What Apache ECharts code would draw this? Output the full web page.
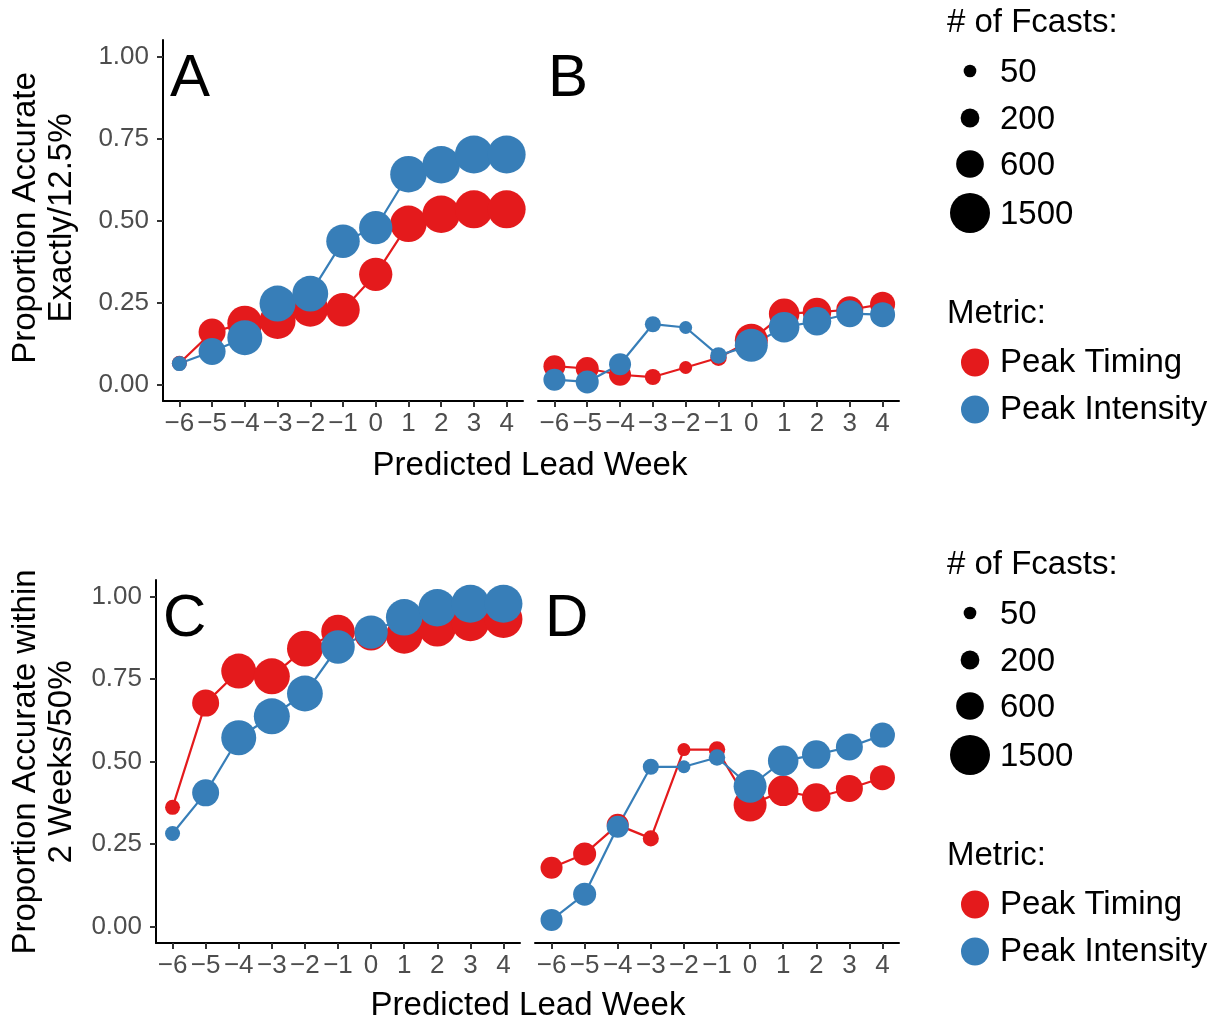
<!DOCTYPE html>
<html>
<head>
<meta charset="utf-8">
<script src="https://cdn.jsdelivr.net/npm/echarts@6/dist/echarts.min.js"></script>
<style>html,body{margin:0;padding:0;background:#fff;}#chart{width:1217px;height:1022px;}</style>
</head>
<body>
<div id="chart"></div>
<script>
// ---- Data ----
const leadWeeks = [-6, -5, -4, -3, -2, -1, 0, 1, 2, 3, 4];
const yTicks = [0, 0.25, 0.5, 0.75, 1.0];
const sizeBreaks = [50, 200, 600, 1500];
const metrics = ['Peak Timing', 'Peak Intensity'];

// number of forecasts per lead week (left column panels A/C, right column panels B/D)
const countsLeft  = [95, 560, 1085, 1163, 1150, 974, 959, 1203, 1284, 1327, 1327];
const countsRight = [319, 362, 319, 120, 55, 132, 938, 769, 645, 560, 456];

// Panel A: exactly / 12.5%
const aTiming    = [0.065, 0.160, 0.187, 0.194, 0.231, 0.228, 0.336, 0.490, 0.519, 0.534, 0.534];
const aIntensity = [0.064, 0.101, 0.143, 0.247, 0.277, 0.437, 0.478, 0.641, 0.670, 0.701, 0.701];
// Panel B
const bTiming    = [0.056, 0.049, 0.030, 0.023, 0.052, 0.082, 0.135, 0.216, 0.221, 0.228, 0.245];
const bIntensity = [0.015, 0.008, 0.062, 0.184, 0.174, 0.089, 0.120, 0.175, 0.193, 0.216, 0.213];
// Panel C: within 2 weeks / 50%
const cTiming    = [0.361, 0.677, 0.774, 0.758, 0.842, 0.894, 0.887, 0.882, 0.905, 0.922, 0.932];
const cIntensity = [0.282, 0.405, 0.572, 0.637, 0.706, 0.847, 0.892, 0.937, 0.966, 0.978, 0.978];
// Panel D
const dTiming    = [0.178, 0.220, 0.308, 0.267, 0.536, 0.536, 0.368, 0.411, 0.391, 0.418, 0.451];
const dIntensity = [0.020, 0.098, 0.302, 0.484, 0.484, 0.512, 0.425, 0.502, 0.521, 0.544, 0.580];

// ---- Styling ----
const FONT = '"Liberation Sans", Arial, Helvetica, sans-serif';
const RED = '#E41A1C', BLUE = '#377EB8';
const colors = [RED, BLUE];
function sizeOf(n) { return 6.6 + 0.862 * Math.sqrt(n); }

const panels = [
  { letter: 'A', showY: true,  dx: 7,  grid: { left: 163, top: 40, width: 360, height: 361 }, series: [aTiming, aIntensity], counts: countsLeft },
  { letter: 'B', showY: false, dx: 10, grid: { left: 538, top: 40, width: 361, height: 361 }, series: [bTiming, bIntensity], counts: countsRight },
  { letter: 'C', showY: true,  dx: 7,  grid: { left: 156, top: 580, width: 364, height: 363 }, series: [cTiming, cIntensity], counts: countsLeft },
  { letter: 'D', showY: false, dx: 10, grid: { left: 535, top: 580, width: 364, height: 363 }, series: [dTiming, dIntensity], counts: countsRight }
];

const grids = [], xAxes = [], yAxes = [], series = [], graphics = [];
panels.forEach((p, i) => {
  grids.push(Object.assign({ outerBoundsMode: 'none', containLabel: false }, p.grid));
  xAxes.push({
    gridIndex: i, type: 'value', min: -6.5, max: 4.5,
    axisLine: { show: true, onZero: false, lineStyle: { color: '#000', width: 2 } },
    axisTick: { show: true, customValues: leadWeeks, length: 6, lineStyle: { color: '#333', width: 2 } },
    axisLabel: { show: true, customValues: leadWeeks, margin: 10, fontSize: 26, color: '#4d4d4d', fontFamily: FONT,
      formatter: v => String(v).replace('-', '\u2212') },
    splitLine: { show: false }
  });
  yAxes.push({
    gridIndex: i, type: 'value', min: -0.05, max: 1.05,
    axisLine: { show: p.showY, onZero: false, lineStyle: { color: '#000', width: 2 } },
    axisTick: { show: p.showY, customValues: yTicks, length: 6, lineStyle: { color: '#333', width: 2 } },
    axisLabel: { show: p.showY, customValues: yTicks, margin: 14, fontSize: 26, color: '#4d4d4d', fontFamily: FONT,
      formatter: v => v.toFixed(2) },
    splitLine: { show: false }
  });
  // points (first so legend picks them), then lines
  p.series.forEach((vals, m) => {
    series.push({
      name: metrics[m], type: 'scatter', xAxisIndex: i, yAxisIndex: i,
      data: leadWeeks.map((x, k) => [x, vals[k], p.counts[k]]),
      symbol: 'circle', symbolSize: v => sizeOf(v[2]),
      itemStyle: { color: colors[m], opacity: 1 },
      z: 3 + m, silent: true, animation: false
    });
  });
  p.series.forEach((vals, m) => {
    series.push({
      name: metrics[m], type: 'line', xAxisIndex: i, yAxisIndex: i,
      data: leadWeeks.map((x, k) => [x, vals[k]]),
      showSymbol: false, symbol: 'none',
      lineStyle: { color: colors[m], width: 2.2 }, itemStyle: { color: colors[m] },
      z: 2, silent: true, animation: false
    });
  });
  // panel letter
  graphics.push({
    type: 'text', x: p.grid.left + p.dx, y: p.grid.top + 39,
    style: { text: p.letter, font: '60px ' + FONT, fill: '#000', textAlign: 'left', textVerticalAlign: 'middle' }
  });
});

// axis titles
const rowInfo = [
  { yTitle: 'Proportion Accurate\nExactly/12.5%', yc: 218, xTitleY: 466, xTitleX: 530 },
  { yTitle: 'Proportion Accurate within\n2 Weeks/50%', yc: 762, xTitleY: 1006, xTitleX: 528 }
];
rowInfo.forEach(r => {
  graphics.push({
    type: 'text', x: 44, y: r.yc, rotation: Math.PI / 2,
    style: { text: r.yTitle, font: '33px ' + FONT, fill: '#000', textAlign: 'center', textVerticalAlign: 'middle', lineHeight: 36 }
  });
  graphics.push({
    type: 'text', x: r.xTitleX, y: r.xTitleY,
    style: { text: 'Predicted Lead Week', font: '33px ' + FONT, fill: '#000', textAlign: 'center', textVerticalAlign: 'middle' }
  });
});

// size legends + metric legend titles
const legendOffsets = [0, 542];
legendOffsets.forEach(off => {
  graphics.push({
    type: 'text', x: 947, y: 23 + off,
    style: { text: '# of Fcasts:', font: '33px ' + FONT, fill: '#000', textAlign: 'left', textVerticalAlign: 'middle' }
  });
  const ys = [71, 118, 164, 213];
  sizeBreaks.forEach((n, k) => {
    graphics.push({ type: 'circle', shape: { cx: 970, cy: ys[k] + off, r: sizeOf(n) / 2 }, style: { fill: '#000' } });
    graphics.push({
      type: 'text', x: 1000, y: ys[k] + off + 2,
      style: { text: String(n), font: '33px ' + FONT, fill: '#000', textAlign: 'left', textVerticalAlign: 'middle' }
    });
  });
  graphics.push({
    type: 'text', x: 947, y: 314 + off,
    style: { text: 'Metric:', font: '33px ' + FONT, fill: '#000', textAlign: 'left', textVerticalAlign: 'middle' }
  });
});

const legends = legendOffsets.map(off => ({
  data: metrics, orient: 'vertical', left: 956, top: 341 + off,
  icon: 'circle', itemWidth: 28, itemHeight: 28, itemGap: 14,
  textStyle: { fontSize: 33, color: '#000', fontFamily: FONT, padding: [0, 0, 0, 6] },
  selectedMode: false
}));

const chart = echarts.init(document.getElementById('chart'), null, { renderer: 'canvas' });
chart.setOption({
  backgroundColor: '#fff',
  animation: false,
  grid: grids, xAxis: xAxes, yAxis: yAxes,
  legend: legends,
  series: series,
  graphic: graphics
});
</script>
</body>
</html>
